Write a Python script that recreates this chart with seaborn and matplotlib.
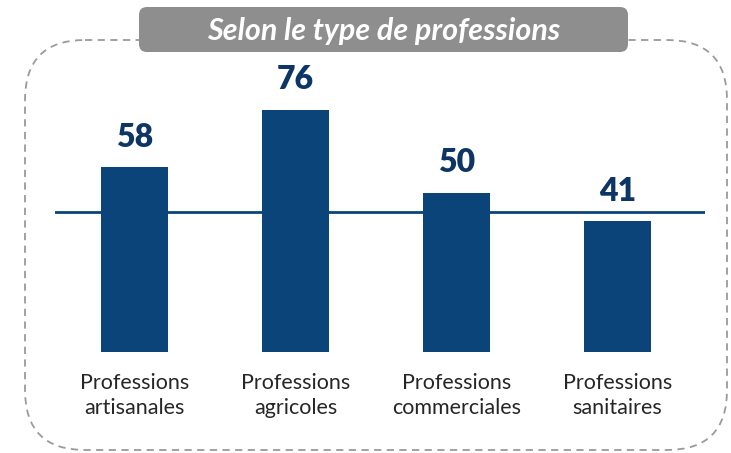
import matplotlib
matplotlib.use("Agg")
import matplotlib.pyplot as plt
import seaborn as sns
import pandas as pd
from matplotlib.patches import FancyBboxPatch

# data
categories = ["Professions\nartisanales", "Professions\nagricoles",
              "Professions\ncommerciales", "Professions\nsanitaires"]
values = [58, 76, 50, 41]
reference = 44
title = "Selon le type de professions"

bar_color = "#0b4479"
label_color = "#0d3566"

sns.set_theme(style="white")
plt.rcParams["font.family"] = ["Lato", "DejaVu Sans"]

df = pd.DataFrame({"categorie": categories, "valeur": values})

fig = plt.figure(figsize=(7.31, 4.53), dpi=100)

# background axes in pixel coordinates for the frame and title box
bg = fig.add_axes([0, 0, 1, 1])
bg.set_xlim(0, 731)
bg.set_ylim(453, 0)
bg.axis("off")
frame = FancyBboxPatch((25, 40), 702, 410, boxstyle="round,pad=0,rounding_size=60",
                       fill=False, edgecolor="#9a9a9a", linewidth=1.3,
                       linestyle=(0, (4, 3)))
bg.add_patch(frame)
title_box = FancyBboxPatch((139, 7), 489, 45, boxstyle="round,pad=0,rounding_size=8",
                           facecolor="#8e8e8e", edgecolor="none")
bg.add_patch(title_box)
bg.text(384, 31, title, color="white", fontsize=22, fontweight="bold",
        fontstyle="italic", ha="center", va="center")

# bar chart axes
ax = fig.add_axes([55 / 731, 101 / 453, 650 / 731, 287 / 453])
ax.patch.set_alpha(0)
sns.barplot(data=df, x="categorie", y="valeur", color=bar_color, width=0.42,
            saturation=1, linewidth=0, ax=ax)
ax.axhline(reference, color=bar_color, linewidth=2, zorder=0)
ax.set_xlim(-0.494, 3.543)
ax.set_ylim(0, 90)

for i, v in enumerate(values):
    ax.annotate(str(v), (i, v), xytext=(0, 11), textcoords="offset points",
                ha="center", va="bottom", fontsize=23, fontweight="heavy",
                color=label_color)

ax.set_xlabel("")
ax.set_ylabel("")
ax.set_yticks([])
ax.tick_params(axis="x", length=0, pad=15, labelsize=15.5)
for lbl in ax.get_xticklabels():
    lbl.set_linespacing(1.3)
sns.despine(ax=ax, left=True, bottom=True)

fig.savefig("out.png", dpi=100)
